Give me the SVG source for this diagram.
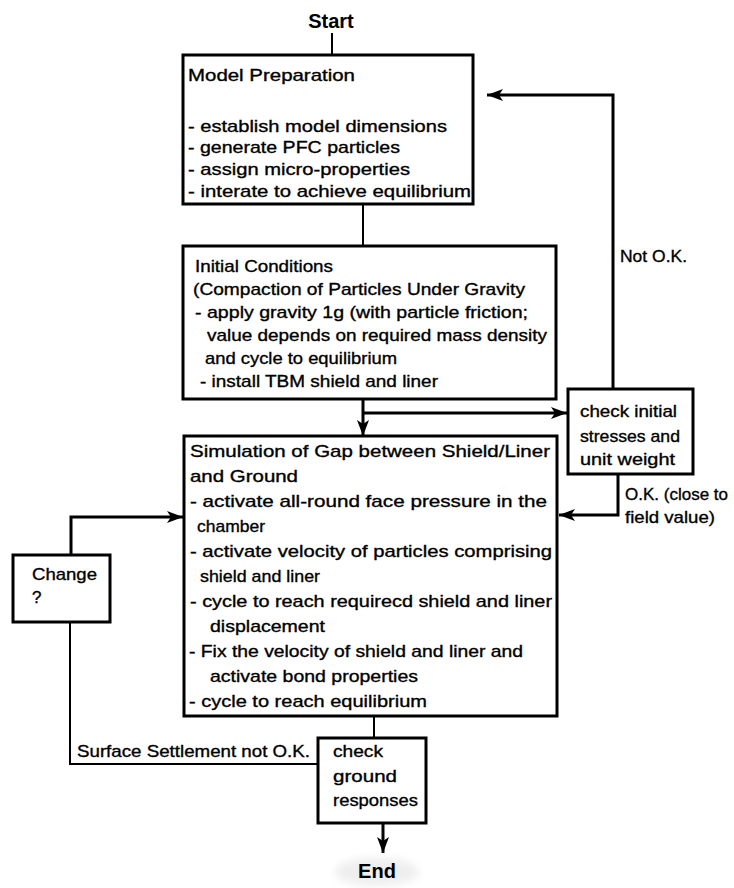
<svg xmlns="http://www.w3.org/2000/svg" width="734" height="888" viewBox="0 0 734 888">
  <defs>
    <marker id="arrow" viewBox="0 0 16 12" refX="16" refY="6" markerWidth="16" markerHeight="12" markerUnits="userSpaceOnUse" orient="auto">
      <path d="M0,0 L16,6 L0,12 L4,6 Z" fill="#000"/>
    </marker>
    <filter id="soft" x="-20%" y="-50%" width="140%" height="200%">
      <feGaussianBlur stdDeviation="4"/>
    </filter>
    <style>
      .box { fill: #fff; stroke: #000; stroke-width: 3; }
      .t { font-family: "Liberation Sans", Arial, sans-serif; font-size: 17px; fill: #000; stroke: #000; stroke-width: 0.35; }
      .title { font-family: "Liberation Sans", Arial, sans-serif; font-size: 20px; font-weight: bold; fill: #000; }
      .thin { fill: none; stroke: #000; stroke-width: 2; }
      .thick { fill: none; stroke: #000; stroke-width: 3; }
    </style>
  </defs>

  <rect width="734" height="888" fill="#fff"/>

  <!-- connectors and their labels -->
  <g id="connectors">
    <line class="thin" x1="332" y1="33" x2="332" y2="55"/>
    <line class="thin" x1="363" y1="204" x2="363" y2="246"/>
    <line class="thick" x1="363" y1="399" x2="363" y2="436" marker-end="url(#arrow)"/>
    <line class="thick" x1="363" y1="413" x2="567" y2="413" marker-end="url(#arrow)"/>
    <polyline class="thick" points="613,388 613,95 487,95" marker-end="url(#arrow)"/>
    <polyline class="thick" points="618,474 618,515 559,515" marker-end="url(#arrow)"/>
    <polyline class="thick" points="71,555 71,517 183,517" marker-end="url(#arrow)"/>
    <line class="thin" x1="374" y1="716" x2="374" y2="738"/>
    <polyline class="thin" points="70,622 70,764 318,764"/>
    <line class="thick" x1="383" y1="823" x2="383" y2="853" marker-end="url(#arrow)"/>
    <text class="t" x="620" y="262" textLength="67" lengthAdjust="spacingAndGlyphs">Not O.K.</text>
    <text class="t" x="625" y="500" textLength="103" lengthAdjust="spacingAndGlyphs">O.K. (close to</text>
    <text class="t" x="625" y="523" textLength="90" lengthAdjust="spacingAndGlyphs">field value)</text>
    <text class="t" x="77" y="757" textLength="233" lengthAdjust="spacingAndGlyphs">Surface Settlement not O.K.</text>
  </g>

  <g id="start">
    <text class="title" x="331" y="28" text-anchor="middle">Start</text>
  </g>

  <g id="model-preparation">
    <rect class="box" x="183" y="55" width="290" height="149"/>
    <text class="t" x="188" y="81" textLength="167" lengthAdjust="spacingAndGlyphs">Model Preparation</text>
    <text class="t" x="188" y="132" textLength="259" lengthAdjust="spacingAndGlyphs">- establish model dimensions</text>
    <text class="t" x="188" y="153" textLength="212" lengthAdjust="spacingAndGlyphs">- generate PFC particles</text>
    <text class="t" x="188" y="175" textLength="222" lengthAdjust="spacingAndGlyphs">- assign micro-properties</text>
    <text class="t" x="188" y="197" textLength="283" lengthAdjust="spacingAndGlyphs">- interate to achieve equilibrium</text>
  </g>

  <g id="initial-conditions">
    <rect class="box" x="183" y="246" width="373" height="153"/>
    <text class="t" x="195" y="272" textLength="138" lengthAdjust="spacingAndGlyphs">Initial Conditions</text>
    <text class="t" x="193" y="295" textLength="332" lengthAdjust="spacingAndGlyphs">(Compaction of Particles Under Gravity</text>
    <text class="t" x="195" y="318" textLength="333" lengthAdjust="spacingAndGlyphs">- apply gravity 1g (with particle friction;</text>
    <text class="t" x="207" y="341" textLength="340" lengthAdjust="spacingAndGlyphs">value depends on required mass density</text>
    <text class="t" x="205" y="364" textLength="192" lengthAdjust="spacingAndGlyphs">and cycle to equilibrium</text>
    <text class="t" x="200" y="387" textLength="238" lengthAdjust="spacingAndGlyphs">- install TBM shield and liner</text>
  </g>

  <g id="check-initial">
    <rect class="box" x="568" y="389" width="125" height="85"/>
    <text class="t" x="580" y="417" textLength="97" lengthAdjust="spacingAndGlyphs">check initial</text>
    <text class="t" x="580" y="442" textLength="100" lengthAdjust="spacingAndGlyphs">stresses and</text>
    <text class="t" x="580" y="465" textLength="95" lengthAdjust="spacingAndGlyphs">unit weight</text>
  </g>

  <g id="simulation">
    <rect class="box" x="184" y="436" width="373" height="280"/>
    <text class="t" x="190" y="457" textLength="360" lengthAdjust="spacingAndGlyphs">Simulation of Gap between Shield/Liner</text>
    <text class="t" x="190" y="482" textLength="108" lengthAdjust="spacingAndGlyphs">and Ground</text>
    <text class="t" x="190" y="507" textLength="357" lengthAdjust="spacingAndGlyphs">- activate all-round face pressure in the</text>
    <text class="t" x="197" y="532" textLength="68" lengthAdjust="spacingAndGlyphs">chamber</text>
    <text class="t" x="190" y="557" textLength="362" lengthAdjust="spacingAndGlyphs">- activate velocity of particles comprising</text>
    <text class="t" x="200" y="582" textLength="120" lengthAdjust="spacingAndGlyphs">shield and liner</text>
    <text class="t" x="190" y="607" textLength="362" lengthAdjust="spacingAndGlyphs">- cycle to reach requirecd shield and liner</text>
    <text class="t" x="210" y="632" textLength="115" lengthAdjust="spacingAndGlyphs">displacement</text>
    <text class="t" x="189" y="657" textLength="334" lengthAdjust="spacingAndGlyphs">- Fix the velocity of shield and liner and</text>
    <text class="t" x="210" y="682" textLength="208" lengthAdjust="spacingAndGlyphs">activate bond properties</text>
    <text class="t" x="189" y="707" textLength="238" lengthAdjust="spacingAndGlyphs">- cycle to reach equilibrium</text>
  </g>

  <g id="change">
    <rect class="box" x="13" y="555" width="97" height="67"/>
    <text class="t" x="32" y="580" textLength="65" lengthAdjust="spacingAndGlyphs">Change</text>
    <text class="t" x="32" y="603">?</text>
  </g>

  <g id="check-ground">
    <rect class="box" x="318" y="738" width="108" height="85"/>
    <text class="t" x="333" y="757" textLength="50" lengthAdjust="spacingAndGlyphs">check</text>
    <text class="t" x="333" y="782" textLength="64" lengthAdjust="spacingAndGlyphs">ground</text>
    <text class="t" x="333" y="806" textLength="85" lengthAdjust="spacingAndGlyphs">responses</text>
  </g>

  <g id="end">
    <ellipse cx="377" cy="872" rx="42" ry="14" fill="#eeeeee" filter="url(#soft)"/>
    <text class="title" x="377" y="878" text-anchor="middle">End</text>
  </g>
</svg>
